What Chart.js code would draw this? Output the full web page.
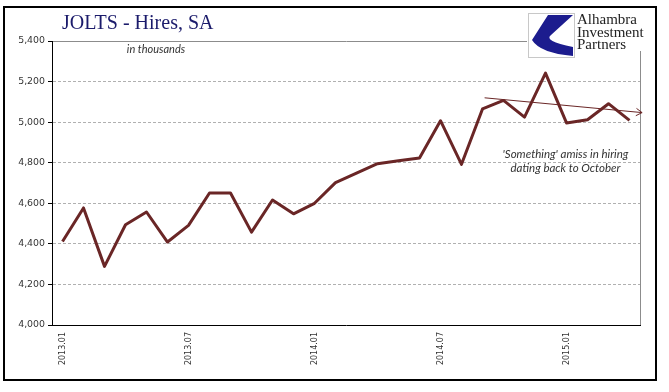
<!DOCTYPE html>
<html>
<head>
<meta charset="utf-8">
<script src="https://cdn.jsdelivr.net/npm/chart.js@4.4.0/dist/chart.umd.min.js"></script>
<style>
  html, body { margin: 0; padding: 0; background: #fff; }
  canvas { display: block; }
</style>
</head>
<body>
<canvas id="jolts" width="669" height="392"></canvas>
<script>
// JOLTS hires, seasonally adjusted (thousands), monthly
const months = [
  '2013.01', '2013.02', '2013.03', '2013.04', '2013.05', '2013.06',
  '2013.07', '2013.08', '2013.09', '2013.10', '2013.11', '2013.12',
  '2014.01', '2014.02', '2014.03', '2014.04', '2014.05', '2014.06',
  '2014.07', '2014.08', '2014.09', '2014.10', '2014.11', '2014.12',
  '2015.01', '2015.02', '2015.03', '2015.04'
];
const hires = [
  4412, 4577, 4289, 4494, 4557, 4409,
  4491, 4651, 4651, 4458, 4616, 4548,
  4600, 4702, 4749, 4795, 4810, 4823,
  5007, 4792, 5065, 5107, 5025, 5242,
  4996, 5012, 5091, 5009
];
const yMin = 4000, yMax = 5400, yStep = 200;

// hand drawn trend arrow (category index, value)
const trendIdx = [20.1, 27.6];
const trendVals = [5120, 5047];

const noteLines = ["'Something' amiss in hiring", 'dating back to October'];
const logoLines = ['Alhambra', 'Investment', 'Partners'];

const lineColor = '#6a2626';

const decor = {
  id: 'decor',
  beforeDraw(chart) {
    const c = chart.ctx;
    c.save();
    c.fillStyle = '#fff';
    c.fillRect(0, 0, chart.width, chart.height);
    c.restore();
  },
  afterDraw(chart) {
    const c = chart.ctx, a = chart.chartArea;
    const xs = chart.scales.x, ys = chart.scales.y;
    c.save();

    // right edge of plot
    c.strokeStyle = '#8c8c8c';
    c.lineWidth = 1;
    c.beginPath();
    c.moveTo(a.right + 0.5, a.top);
    c.lineTo(a.right + 0.5, a.bottom);
    c.stroke();

    // trend arrow
    const x0 = xs.getPixelForValue(trendIdx[0]), y0 = ys.getPixelForValue(trendVals[0]);
    const x1 = xs.getPixelForValue(trendIdx[1]), y1 = ys.getPixelForValue(trendVals[1]);
    c.strokeStyle = lineColor;
    c.lineWidth = 1;
    c.beginPath();
    c.moveTo(x0, y0);
    c.lineTo(x1, y1);
    c.stroke();
    const ang = Math.atan2(y1 - y0, x1 - x0);
    c.beginPath();
    c.moveTo(x1 - 7 * Math.cos(ang - 0.55), y1 - 7 * Math.sin(ang - 0.55));
    c.lineTo(x1, y1);
    c.lineTo(x1 - 7 * Math.cos(ang + 0.55), y1 - 7 * Math.sin(ang + 0.55));
    c.stroke();

    // title + unit
    c.fillStyle = '#1b1b6b';
    c.font = '20px "Liberation Serif"';
    c.textAlign = 'left';
    c.textBaseline = 'alphabetic';
    c.fillText('JOLTS - Hires, SA', 62, 29);

    c.fillStyle = '#333';
    c.font = 'italic 11px Lato';
    c.textAlign = 'center';
    c.fillText('in thousands', 156, 53);

    // annotation
    c.font = 'italic 11.5px Lato';
    c.fillText(noteLines[0], 565.5, 157.5);
    c.fillText(noteLines[1], 565.5, 172);

    // logo
    c.fillStyle = '#fff';
    c.fillRect(527, 8, 128, 43);
    c.fillRect(528, 13, 47, 45);
    c.strokeStyle = '#c8c8c8';
    c.strokeRect(528.5, 13.5, 46, 44);
    c.fillStyle = '#1c1c8e';
    c.beginPath();
    c.moveTo(548, 15);
    c.lineTo(573, 15);
    c.lineTo(551, 35);
    c.quadraticCurveTo(543, 41, 573, 47);
    c.lineTo(573, 56);
    c.quadraticCurveTo(540, 53, 532, 40);
    c.closePath();
    c.fill();

    c.fillStyle = '#222';
    c.font = '15px "Liberation Serif"';
    c.textAlign = 'left';
    logoLines.forEach((t, i) => c.fillText(t, 577, 24 + i * 12.7));

    // outer frame
    c.strokeStyle = '#000';
    c.lineWidth = 2;
    c.strokeRect(4, 7, 652, 373);
    c.restore();
  }
};

const ctx = document.getElementById('jolts').getContext('2d');
const chart = new Chart(ctx, {
  type: 'line',
  data: {
    labels: months,
    datasets: [{
      data: hires,
      borderColor: lineColor,
      borderWidth: 3,
      borderJoinStyle: 'round',
      pointRadius: 0,
      tension: 0,
      fill: false
    }]
  },
  options: {
    responsive: false,
    animation: false,
    layout: { padding: { left: 4, top: 41, right: 29, bottom: 11 } },
    plugins: { legend: { display: false }, tooltip: { enabled: false }, title: { display: false } },
    scales: {
      x: {
        offset: true,
        afterFit: (s) => { s.height = 56; },
        grid: {
          offset: true,
          drawOnChartArea: false,
          tickLength: 4,
          color: (c) => c.index % 6 === 0 ? '#000' : 'rgba(0,0,0,0)',
          tickColor: (c) => c.index % 6 === 0 ? '#000' : 'rgba(0,0,0,0)'
        },
        border: { color: '#000', width: 1 },
        ticks: {
          autoSkip: false,
          minRotation: 90,
          maxRotation: 90,
          padding: 3,
          color: '#333',
          font: { family: '"DejaVu Sans"', size: 8 },
          callback: (v, i) => i % 6 === 0 ? months[i] : null
        }
      },
      y: {
        min: yMin,
        max: yMax,
        afterFit: (s) => { s.width = 48; },
        grid: {
          color: (c) => c.tick && c.tick.value === yMax ? '#8c8c8c' : '#b0b0b0',
          tickColor: '#000',
          tickLength: 4,
          lineWidth: 1
        },
        border: {
          color: '#000',
          width: 1,
          dash: (c) => (c.tick && c.tick.value < yMax) ? [3, 2] : []
        },
        ticks: {
          stepSize: yStep,
          padding: 3,
          color: '#333',
          font: { family: '"DejaVu Sans"', size: 9.4 },
          callback: (v) => v.toLocaleString('en-US')
        }
      }
    }
  },
  plugins: [decor]
});
</script>
</body>
</html>
